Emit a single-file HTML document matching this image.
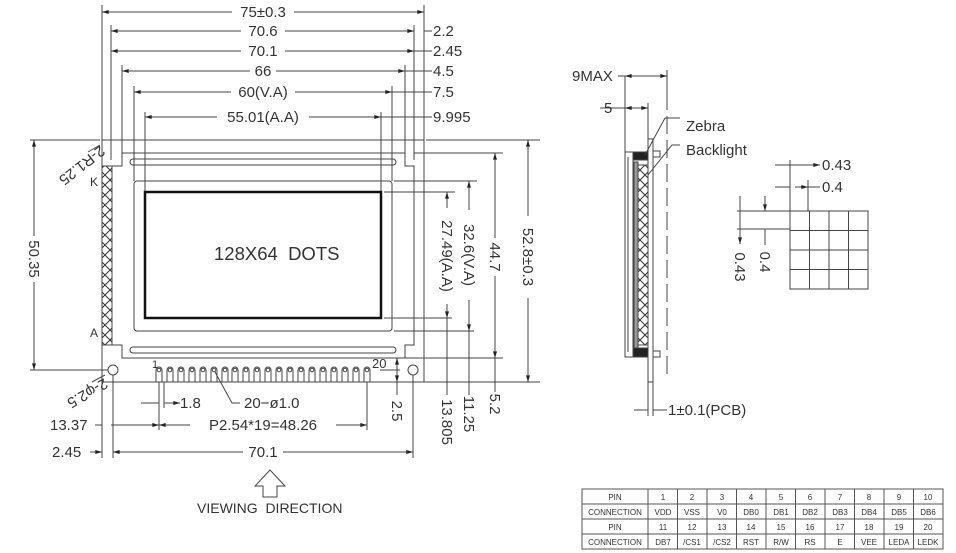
<!DOCTYPE html>
<html><head><meta charset="utf-8"><style>
html,body{margin:0;padding:0;background:#fff;}
svg{display:block;}
text{font-family:"Liberation Sans",sans-serif;fill:#333;}
</style></head><body>
<svg width="956" height="553" viewBox="0 0 956 553" xmlns="http://www.w3.org/2000/svg">
<defs>
<marker id="a" viewBox="0 0 10 6" refX="10" refY="3" markerWidth="7" markerHeight="4" orient="auto-start-reverse"><path d="M0,0L10,3L0,6z" fill="#222"/></marker>
<pattern id="x" width="10" height="10" patternUnits="userSpaceOnUse"><path d="M0,0L10,10M10,0L0,10" stroke="#333" stroke-width="1"/></pattern>
</defs>
<g stroke="#444" stroke-width="1" fill="none">
<path d="M102,5V140M424,5V140M111,25V160M414,25V160M122,65V153M405,65V153M134,86V181M392,86V181M145,112V192M381,112V192"/>
<path d="M424,31H432M414,51H432M405,71H432M392,92H432M381,117H432"/>
<path d="M102,12H424" marker-start="url(#a)" marker-end="url(#a)"/>
<path d="M111,31H414" marker-start="url(#a)" marker-end="url(#a)"/>
<path d="M111,51H414" marker-start="url(#a)" marker-end="url(#a)"/>
<path d="M122,71H405" marker-start="url(#a)" marker-end="url(#a)"/>
<path d="M134,92H392" marker-start="url(#a)" marker-end="url(#a)"/>
<path d="M145,117H381" marker-start="url(#a)" marker-end="url(#a)"/>
<path d="M30,140H100M426,140H540M102,382H424M430,382H540"/>
<rect x="102" y="140" width="322" height="242"/>
<path d="M112,166H122V153H405V166H414V345H405V358H122V345H112Z"/>
<rect x="102" y="166" width="10" height="179" fill="url(#x)"/>
<rect x="130" y="159" width="266" height="6" rx="3"/>
<rect x="130" y="347" width="266" height="6" rx="3"/>
<rect x="134" y="181" width="258" height="150" rx="3"/>
<rect x="145" y="192" width="236" height="126" stroke="#111" stroke-width="2.5"/>
<circle cx="113" cy="370" r="5"/><circle cx="413" cy="370" r="5"/>
<path d="M384,192H455M394,181H477M414,153H503M405,358H503M410,382H540"/>
<path d="M447,192V318" marker-start="url(#a)" marker-end="url(#a)"/>
<path d="M469,181V331" marker-start="url(#a)" marker-end="url(#a)"/>
<path d="M495,153V358" marker-start="url(#a)" marker-end="url(#a)"/>
<path d="M528,140V382" marker-start="url(#a)" marker-end="url(#a)"/>
<path d="M384,318H452M394,331H474"/>
<path d="M447,318V382M469,331V382M495,358V382M447,382V395M469,382V395M495,382V392"/>
<path d="M34,140V370" marker-start="url(#a)" marker-end="url(#a)"/>
<path d="M30,370H108"/>
<path d="M397,358V382" marker-start="url(#a)" marker-end="url(#a)"/>
<path d="M397,382V395M380,370H400"/>
<path d="M102,382V458M113,375V458M413,375V458M159,382V430M164,382V408M367,382V430"/>
<path d="M141,403H159M164,403H180" marker-end="url(#a)"/>
<path d="M95,425H102M111,425H159" marker-end="url(#a)"/>
<path d="M159,425H367" marker-start="url(#a)" marker-end="url(#a)"/>
<path d="M90,452H102" marker-end="url(#a)"/>
<path d="M113,452H413" marker-start="url(#a)" marker-end="url(#a)"/>
<path d="M215,372L232,403H244"/>
<path d="M100,145L88,152M105,375L92,382"/>
<path d="M270,470L285,486H277V497H263V486H255Z"/>
<!-- side view -->
<path d="M625,76V152M667,70V92M648,103V139"/>
<path d="M625,76H667" marker-start="url(#a)" marker-end="url(#a)"/>
<path d="M618,76H625M600,108H625"/>
<path d="M625,108H648" marker-start="url(#a)" marker-end="url(#a)"/>
<rect x="648" y="139" width="5" height="243"/>
<path d="M648,152H625V357H648M628,157V352M633,160V350"/>
<rect x="633" y="152" width="15" height="8" fill="#222"/>
<rect x="633" y="348" width="15" height="9" fill="#222"/>
<rect x="638" y="165" width="10" height="180" fill="url(#x)"/>
<rect x="634" y="162" width="4" height="186" fill="#999"/>
<path d="M653,151H660V157H653M653,351H660V357H653"/>
<path d="M648,382V416M653,382V416M634,410H648M653,410H667"/>
<path d="M645,155L665,118H680M648,175L672,145H680"/>
<!-- dots grid -->
<rect x="790" y="211" width="78" height="78"/>
<path d="M809.5,211V289M829,211V289M848.5,211V289M790,230.5H868M790,250H868M790,269.5H868"/>
<path d="M790,160V211M808,180V211M737,211H790M737,229H790"/>
<path d="M775,165H790M808,165H820" marker-end="url(#a)"/>
<path d="M790,165H808"/>
<path d="M775,187H790M808,187H820"/>
<path d="M795,187H808" marker-end="url(#a)"/>
<path d="M740,196V211M740,229V244" marker-end="url(#a)"/>
<path d="M740,211V229M765,205V211M765,229V245"/>
<path d="M765,196V211" marker-end="url(#a)"/>
</g>
<line x1="667" y1="92" x2="667" y2="380" stroke="#444" stroke-width="1" stroke-dasharray="18,6"/>
<!-- pins -->
<g stroke="#444" fill="none" stroke-width="1">
<path d="M156,382V370A3,3 0 0 1 162,370V382M167,382V370A3,3 0 0 1 173,370V382M178,382V370A3,3 0 0 1 184,370V382M189,382V370A3,3 0 0 1 195,370V382M200,382V370A3,3 0 0 1 206,370V382M211,382V370A3,3 0 0 1 217,370V382M222,382V370A3,3 0 0 1 228,370V382M232,382V370A3,3 0 0 1 238,370V382M243,382V370A3,3 0 0 1 249,370V382M254,382V370A3,3 0 0 1 260,370V382M265,382V370A3,3 0 0 1 271,370V382M276,382V370A3,3 0 0 1 282,370V382M287,382V370A3,3 0 0 1 293,370V382M298,382V370A3,3 0 0 1 304,370V382M309,382V370A3,3 0 0 1 315,370V382M320,382V370A3,3 0 0 1 326,370V382M331,382V370A3,3 0 0 1 337,370V382M342,382V370A3,3 0 0 1 348,370V382M353,382V370A3,3 0 0 1 359,370V382M364,382V370A3,3 0 0 1 370,370V382"/>
<circle cx="159" cy="370" r="1.8"/><circle cx="170" cy="370" r="1.8"/><circle cx="181" cy="370" r="1.8"/><circle cx="192" cy="370" r="1.8"/><circle cx="203" cy="370" r="1.8"/><circle cx="214" cy="370" r="1.8"/><circle cx="225" cy="370" r="1.8"/><circle cx="235" cy="370" r="1.8"/><circle cx="246" cy="370" r="1.8"/><circle cx="257" cy="370" r="1.8"/><circle cx="268" cy="370" r="1.8"/><circle cx="279" cy="370" r="1.8"/><circle cx="290" cy="370" r="1.8"/><circle cx="301" cy="370" r="1.8"/><circle cx="312" cy="370" r="1.8"/><circle cx="323" cy="370" r="1.8"/><circle cx="334" cy="370" r="1.8"/><circle cx="345" cy="370" r="1.8"/><circle cx="356" cy="370" r="1.8"/><circle cx="367" cy="370" r="1.8"/>
</g>
<!-- texts -->
<g font-size="15" text-anchor="middle">
<rect x="232" y="4" width="62" height="16" fill="#fff"/><text x="263" y="17">75±0.3</text>
<rect x="241" y="24" width="44" height="16" fill="#fff"/><text x="263" y="36">70.6</text>
<rect x="241" y="44" width="44" height="16" fill="#fff"/><text x="263" y="56">70.1</text>
<rect x="250" y="64" width="26" height="16" fill="#fff"/><text x="263" y="76">66</text>
<rect x="231" y="85" width="64" height="16" fill="#fff"/><text x="263" y="97">60(V.A)</text>
<rect x="217" y="110" width="92" height="16" fill="#fff"/><text x="263" y="122">55.01(A.A)</text>
<rect x="240" y="395" width="76" height="16" fill="#fff"/>
<rect x="190" y="418" width="146" height="16" fill="#fff"/><text x="263" y="430">P2.54*19=48.26</text>
<rect x="243" y="445" width="40" height="16" fill="#fff"/><text x="263" y="457">70.1</text>
</g>
<g font-size="15">
<text x="433" y="36">2.2</text><text x="433" y="56">2.45</text><text x="433" y="76">4.5</text>
<text x="433" y="97">7.5</text><text x="433" y="122">9.995</text>
<text x="180" y="408">1.8</text><text x="244" y="408">20−ø1.0</text>
<text x="50" y="430">13.37</text><text x="52" y="457">2.45</text>
<text x="214" y="260" font-size="18.5" xml:space="preserve">128X64  DOTS</text>
<text x="197" y="513" font-size="14" xml:space="preserve">VIEWING  DIRECTION</text>
<text x="90" y="186" font-size="12">K</text><text x="90" y="337" font-size="12">A</text>
<text x="152" y="368" font-size="11">1</text><text x="372" y="368" font-size="13">20</text>
<text transform="translate(100,145) rotate(142)">2-R1.25</text>
<text transform="translate(104,378) rotate(150)">2-φ2.5</text>
</g>
<g font-size="15" text-anchor="middle">
<rect x="26" y="236" width="16" height="46" fill="#fff"/>
<text transform="translate(29,259) rotate(90)">50.35</text>
<rect x="440" y="208" width="15" height="96" fill="#fff"/>
<text transform="translate(442,256) rotate(90)">27.49(A.A)</text>
<rect x="462" y="210" width="15" height="90" fill="#fff"/>
<text transform="translate(464,255) rotate(90)">32.6(V.A)</text>
<rect x="488" y="238" width="15" height="38" fill="#fff"/>
<text transform="translate(490,257) rotate(90)">44.7</text>
<rect x="521" y="216" width="15" height="82" fill="#fff"/>
<text transform="translate(523,257) rotate(90)">52.8±0.3</text>
<text transform="translate(442,422) rotate(90)">13.805</text>
<text transform="translate(464,414) rotate(90)">11.25</text>
<text transform="translate(490,404) rotate(90)">5.2</text>
<text transform="translate(392,411) rotate(90)">2.5</text>
<text transform="translate(735,267) rotate(90)">0.43</text>
<text transform="translate(760,262) rotate(90)">0.4</text>
</g>
<g font-size="15">
<text x="572" y="81">9MAX</text><text x="604" y="113">5</text>
<text x="686" y="131">Zebra</text><text x="686" y="155">Backlight</text>
<text x="668" y="415">1±0.1(PCB)</text>
<text x="822" y="170">0.43</text><text x="822" y="192">0.4</text>
</g>
<!-- table -->
<g stroke="#555" fill="none" stroke-width="1">
<rect x="582" y="489" width="361" height="60"/>
<path d="M582,504H943M582,519H943M582,534H943"/>
<path d="M648,489V549M677.5,489V549M707,489V549M736.5,489V549M766,489V549M795.5,489V549M825,489V549M854.5,489V549M884,489V549M913.5,489V549"/>
</g>
<g font-size="8" text-anchor="middle">
<text x="615" y="500">PIN</text><text x="615" y="515">CONNECTION</text><text x="615" y="530">PIN</text><text x="615" y="545">CONNECTION</text>
<text x="663" y="500">1</text><text x="692" y="500">2</text><text x="722" y="500">3</text><text x="751" y="500">4</text><text x="781" y="500">5</text><text x="810" y="500">6</text><text x="840" y="500">7</text><text x="869" y="500">8</text><text x="899" y="500">9</text><text x="928" y="500">10</text>
<text x="663" y="515">VDD</text><text x="692" y="515">VSS</text><text x="722" y="515">V0</text><text x="751" y="515">DB0</text><text x="781" y="515">DB1</text><text x="810" y="515">DB2</text><text x="840" y="515">DB3</text><text x="869" y="515">DB4</text><text x="899" y="515">DB5</text><text x="928" y="515">DB6</text>
<text x="663" y="530">11</text><text x="692" y="530">12</text><text x="722" y="530">13</text><text x="751" y="530">14</text><text x="781" y="530">15</text><text x="810" y="530">16</text><text x="840" y="530">17</text><text x="869" y="530">18</text><text x="899" y="530">19</text><text x="928" y="530">20</text>
<text x="663" y="545">DB7</text><text x="692" y="545">/CS1</text><text x="722" y="545">/CS2</text><text x="751" y="545">RST</text><text x="781" y="545">R/W</text><text x="810" y="545">RS</text><text x="840" y="545">E</text><text x="869" y="545">VEE</text><text x="899" y="545">LEDA</text><text x="928" y="545">LEDK</text>
</g>
</svg>
</body></html>
